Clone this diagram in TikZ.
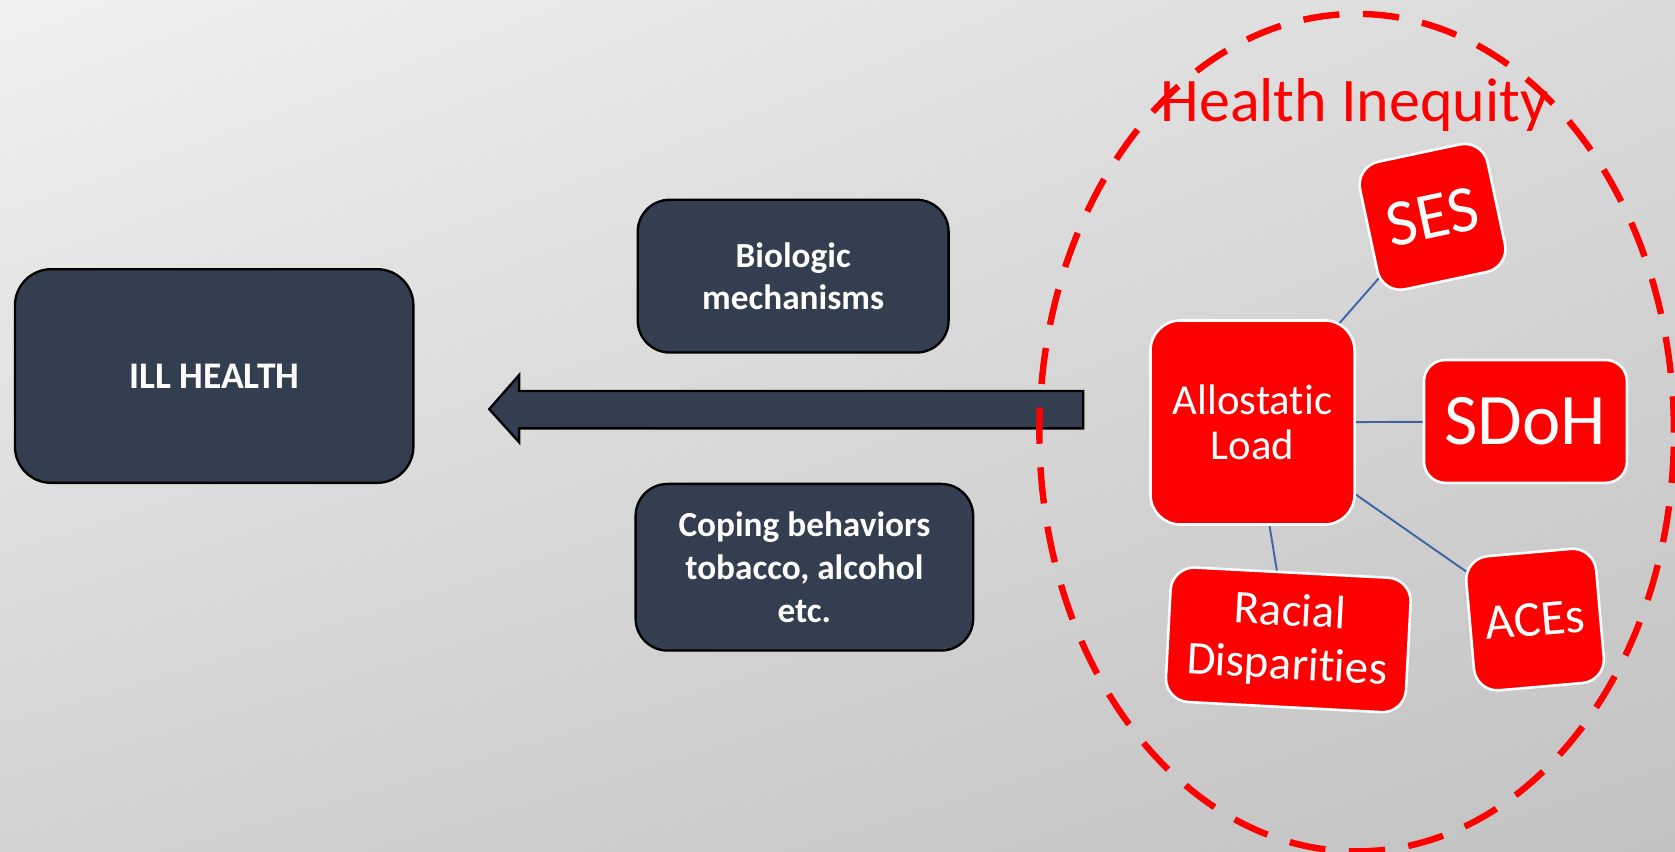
\documentclass[tikz,border=0pt]{standalone}
\usepackage{fontspec}
\setmainfont{Carlito}[Ligatures={NoCommon}]
\usetikzlibrary{shadings}
\pgfdeclarelayer{back}
\pgfdeclarelayer{links}
\pgfsetlayers{back,links,main}
\definecolor{slate}{HTML}{333F50}
\definecolor{linkblue}{HTML}{3F64A6}
\definecolor{inred}{HTML}{FF0000}
\definecolor{bgul}{RGB}{240,240,240}
\definecolor{bgur}{RGB}{218,218,218}
\definecolor{bgll}{RGB}{210,210,210}
\definecolor{bglr}{RGB}{194,194,194}
\begin{document}
\begin{tikzpicture}[x=0.5pt,y=-0.5pt,
  darkbox/.style={draw=black, line width=1.1pt, fill=slate, rounded corners=15pt, text=white,
    font=\bfseries\fontsize{16.5}{20}\selectfont, align=center, inner sep=0pt},
  redbox/.style={draw=white, line width=1.2pt, fill=inred, text=white, align=center,
    inner sep=0pt, rounded corners=12pt},
  link/.style={draw=linkblue, line width=0.9pt}]
\useasboundingbox (0,0) rectangle (1568,797);
\begin{pgfonlayer}{back}
\shade[upper left=bgul, upper right=bgur, lower left=bgll, lower right=bglr]
  (0,0) rectangle (1568,797);
\end{pgfonlayer}
% block arrow
\draw[fill=slate, draw=black, line width=1.1pt, line join=miter]
  (458,383) -- (486,351) -- (486,366) -- (1014,366) -- (1014,401) -- (486,401) -- (486,414) -- cycle;
% dark boxes
\node[darkbox, minimum width=186.5pt, minimum height=100pt, rounded corners=17pt,
  font=\bfseries\fontsize{17.6}{20}\selectfont] (ill) at (200.5,352) {ILL HEALTH};
\node[darkbox, minimum width=145.5pt, minimum height=71.5pt] (bio) at (742.5,258.5) {Biologic\\mechanisms};
\node[darkbox, minimum width=158pt, minimum height=78pt] (cope) at (753,531) {Coping behaviors\\tobacco, alcohol\\etc.};
% dashed ellipse
\draw[inred, line width=3pt, dash pattern=on 17pt off 11pt] (1270,405) ellipse [x radius=148.5pt, y radius=196pt];
% red boxes
\node[redbox, minimum width=95.5pt, minimum height=95.5pt, rounded corners=14pt, font=\fontsize{20}{21}\selectfont] (al) at (1172.5,395.5) {Allostatic\\Load};
\node[redbox, minimum width=95pt, minimum height=57.5pt, rounded corners=10pt, font=\fontsize{34}{36}\selectfont] (sdoh) at (1428,394.5) {SDoH};
\node[redbox, rotate=12, minimum width=61pt, minimum height=61pt, rounded corners=11pt, font=\fontsize{31}{33}\selectfont] (ses) at (1341,203) {SES};
\node[redbox, rotate=5, minimum width=61pt, minimum height=63pt, rounded corners=11pt, font=\fontsize{23.5}{25}\selectfont] (aces) at (1437,580) {ACEs};
\node[redbox, rotate=-3, minimum width=112.5pt, minimum height=63pt, rounded corners=11pt, font=\fontsize{22}{25}\selectfont] (race) at (1206,599) {Racial\\Disparities};
\begin{pgfonlayer}{links}
\draw[link] (al.center) -- (ses.center);
\draw[link] (al.center) -- (sdoh.center);
\draw[link] (al.center) -- (aces.center);
\draw[link] (al.center) -- (race.center);
\end{pgfonlayer}
\node[text=inred, font=\fontsize{29}{32}\selectfont, inner sep=0pt] (hi) at (1268,98) {Health Inequity};
\end{tikzpicture}
\end{document}
